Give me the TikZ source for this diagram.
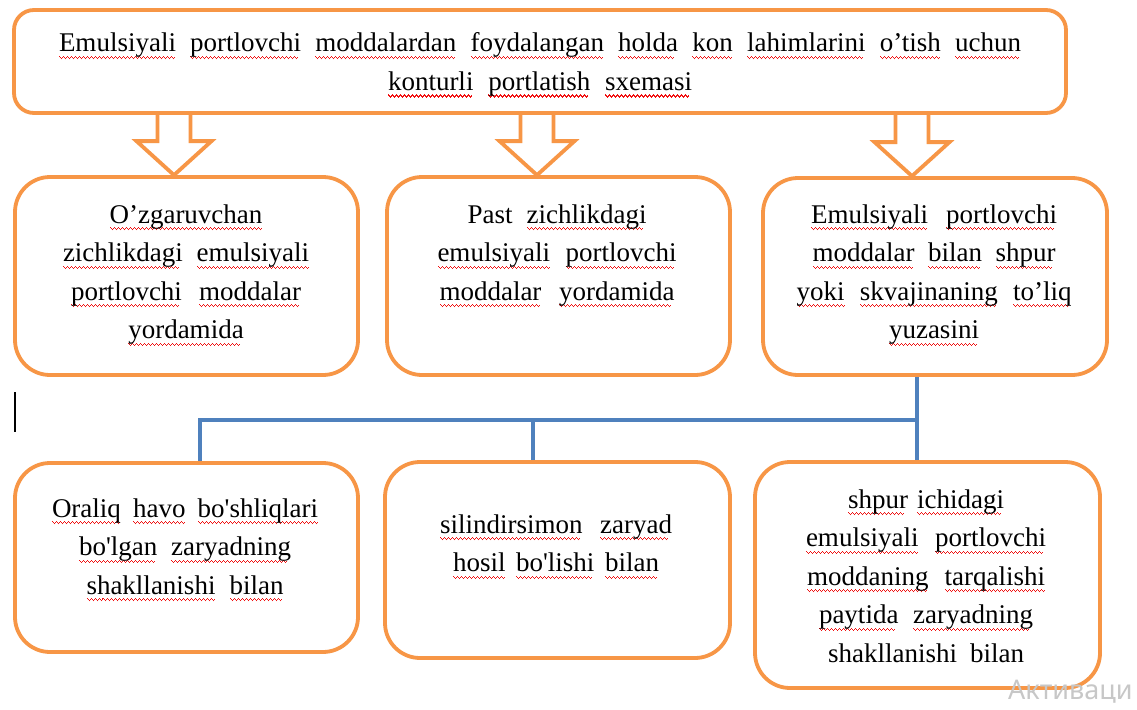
\documentclass[tikz,border=0pt]{standalone}
\usepackage{fontspec}
\setmainfont{Liberation Serif}
\newfontfamily\wmfont{Noto Sans}
\usetikzlibrary{calc,backgrounds}
\definecolor{boxorange}{HTML}{F79646}
\definecolor{lineblue}{HTML}{4F81BD}
\definecolor{spellred}{HTML}{F01010}
\newbox\splbox
\newcommand\wavecell{\hbox{%
  \vrule height -4pt depth 5.4pt width 1pt
  \vrule height -5pt depth 6.4pt width 1pt
  \vrule height -6pt depth 7.4pt width 1pt
  \vrule height -5pt depth 6.4pt width 1pt}}
\newcommand\spl[1]{\setbox\splbox=\hbox{#1}%
  \rlap{\color{spellred}\hbox to \wd\splbox{\leaders\wavecell\hfill}}\box\splbox}
\newcommand\wl[2]{\makebox[#1pt][s]{#2}}
\newcommand\boxtext[1]{\begin{tabular}[t]{@{}c@{}}#1\end{tabular}}
\newcommand\harrow[2]{\draw[harr] let \p1=(#1), \p2=(#2) in
  (\x1-16.5pt,\y1) -- (\x1-16.5pt,\y2+34pt) -- (\x1-37.5pt,\y2+34pt) -- (\x2,\y2)
  -- (\x1+37.5pt,\y2+34pt) -- (\x1+16.5pt,\y2+34pt) -- (\x1+16.5pt,\y1);}
\tikzset{
  rbox/.style={draw=boxorange, line width=3.8pt, rounded corners=#1, fill=white, inner sep=0pt},
  txt/.style={anchor=base, inner sep=0pt, font=\fontsize{27}{38.5}\selectfont},
  conn/.style={draw=lineblue, line width=3.8pt},
  harr/.style={draw=boxorange, line width=3.8pt, line join=miter},
}
\begin{document}
\begin{tikzpicture}[x=1pt,y=-1pt]
\useasboundingbox (0,0) rectangle (1137,709);
\clip (0,0) rectangle (1137,709);

% boxes
\node[rbox=20pt, minimum width=1052pt, minimum height=103pt] (top) at (540,61.5) {};
\node[rbox=35pt, minimum width=343pt, minimum height=198pt] (m1) at (186.5,276) {};
\node[rbox=35pt, minimum width=343pt, minimum height=198pt] (m2) at (558.5,276) {};
\node[rbox=35pt, minimum width=344pt, minimum height=197pt] (m3) at (935,276.5) {};
\node[rbox=35pt, minimum width=343pt, minimum height=189pt] (b1) at (186.5,557.5) {};
\node[rbox=35pt, minimum width=345pt, minimum height=196pt] (b2) at (557.5,560) {};
\node[rbox=35pt, minimum width=345pt, minimum height=226pt] (b3) at (927.5,575) {};

% texts
\node[txt] (ttop) at (540,52) {\boxtext{%
  \wl{962}{\spl{Emulsiyali} \spl{portlovchi} \spl{moddalardan} \spl{foydalangan} \spl{holda} \spl{kon} \spl{lahimlarini} \spl{o’tish} \spl{uchun}}\\
  \wl{304}{\spl{konturli} \spl{portlatish} \spl{sxemasi}}}};
\node[txt] (tm1) at (186,223) {\boxtext{%
  \spl{O’zgaruvchan}\\
  \wl{246}{\spl{zichlikdagi} \spl{emulsiyali}}\\
  \wl{230}{\spl{portlovchi} \spl{moddalar}}\\
  \spl{yordamida}}};
\node[txt] (tm2) at (557,223) {\boxtext{%
  \wl{179}{Past \spl{zichlikdagi}}\\
  \wl{239}{\spl{emulsiyali} \spl{portlovchi}}\\
  \wl{235}{\spl{moddalar} \spl{yordamida}}}};
\node[txt] (tm3) at (934,223) {\boxtext{%
  \wl{246}{\spl{Emulsiyali} \spl{portlovchi}}\\
  \wl{243}{\spl{moddalar} \spl{bilan} \spl{shpur}}\\
  \wl{275}{\spl{yoki} \spl{skvajinaning} \spl{to’liq}}\\
  \spl{yuzasini}}};
\node[txt] (tb1) at (185,517) {\boxtext{%
  \wl{266}{\spl{Oraliq} \spl{havo} \spl{bo\textquotesingle shliqlari}}\\
  \wl{212}{\spl{bo\textquotesingle lgan} \spl{zaryadning}}\\
  \wl{197}{\spl{shakllanishi} \spl{bilan}}}};
\node[txt] (tb2) at (556,533) {\boxtext{%
  \wl{232}{\spl{silindirsimon} \spl{zaryad}}\\
  \wl{206}{\spl{hosil} \spl{bo\textquotesingle lishi} \spl{bilan}}}};
\node[txt] (tb3) at (926,508) {\boxtext{%
  \wl{156}{\spl{shpur} \spl{ichidagi}}\\
  \wl{240}{\spl{emulsiyali} \spl{portlovchi}}\\
  \wl{238}{\spl{moddaning} \spl{tarqalishi}}\\
  \wl{214}{\spl{paytida} \spl{zaryadning}}\\
  \wl{196}{shakllanishi bilan}}};

% hollow arrows
\coordinate (t1) at ([xshift=-12.5pt]m1.north);
\coordinate (t2) at ([xshift=-21.5pt]m2.north);
\coordinate (t3) at ([xshift=-23pt]m3.north);
\harrow{t1 |- top.south}{t1}
\harrow{t2 |- top.south}{t2}
\harrow{t3 |- top.south}{t3}

% blue connectors (behind the boxes)
\begin{scope}[on background layer]
\fill[white] (0,0) rectangle (1137,709);
\coordinate (j3) at ([xshift=-18pt]m3.south);
\coordinate (j1) at (200,420);
\coordinate (j2) at (533,420);
\draw[conn] (j3) -- (j3 |- b3.north);
\draw[conn] (j3 |- j1) -- (j1) -- (j1 |- b1.north);
\draw[conn] (j2) -- (j2 |- b2.north);
\end{scope}

% text cursor
\draw[line width=2pt] (15,392) -- (15,432);

% watermark
\node[anchor=base west, inner sep=0pt, text=black!22, font=\wmfont\fontsize{27}{27}\selectfont] (wm) at (1008,699) {Активаци};
\end{tikzpicture}
\end{document}
